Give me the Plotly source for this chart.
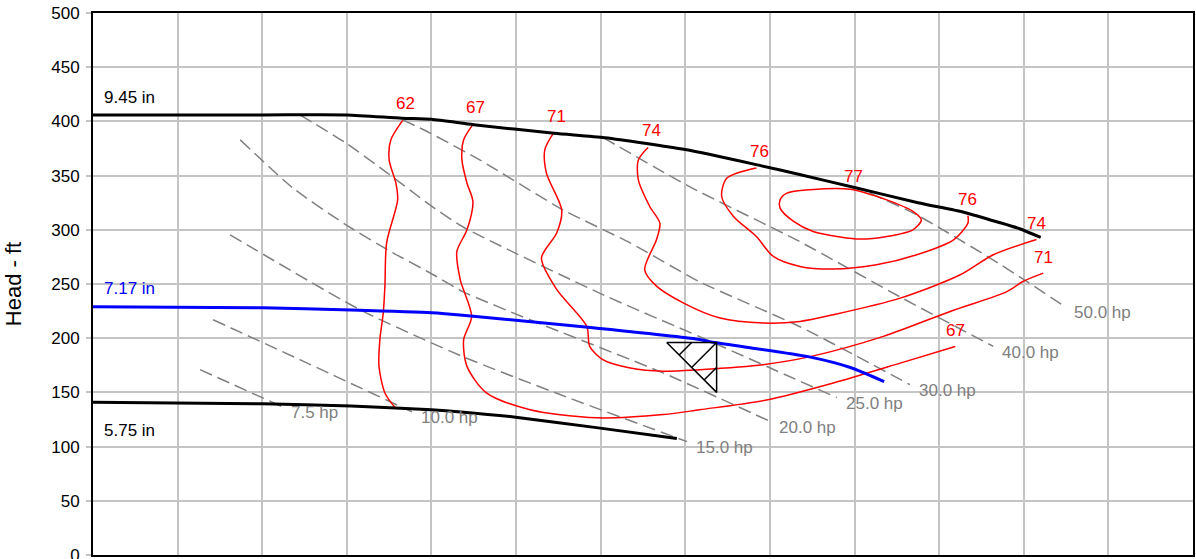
import plotly.graph_objects as go

# ---------------- data (flow in gpm, head in ft) ----------------
imp_945_q = [0, 200, 300, 365, 400, 450, 545, 605, 700, 790, 835, 900, 975, 1030, 1070, 1095, 1120]
imp_945_h = [406, 406, 406, 403, 402, 397, 389, 385, 374, 359, 351, 339, 325, 316, 307, 301, 293]

imp_717_q = [0, 200, 305, 400, 440, 585, 715, 735, 845, 895, 935]
imp_717_h = [229, 228, 226, 223.5, 221, 210, 199, 196, 183, 173, 160]

imp_575_q = [0, 200, 305, 400, 435, 495, 595, 690]
imp_575_h = [141, 139.5, 137.5, 134, 132, 127.5, 117.5, 107.5]

eff_62_q = [366, 352, 350, 358, 360, 347, 345, 343, 339, 338, 345, 357]
eff_62_h = [401, 383, 364.5, 343, 327.5, 288, 248, 223, 198.5, 174, 149.5, 136]

eff_67_q = [449, 438, 436, 442, 449, 442, 430, 434, 447.5, 438, 442, 465, 516.5, 595, 674, 717, 796, 875, 954, 1019]
eff_67_h = [397, 383, 364.5, 343, 326, 300, 280, 254, 220, 198.5, 174, 149.5, 134, 126.5, 129.5, 134, 143, 158.7, 177, 192.4]

eff_71_q = [544, 534, 536, 554, 548, 530, 548, 583.5, 587, 603, 635, 674, 717, 792, 847.5, 934, 1013, 1080, 1099, 1123]
eff_71_h = [389, 374, 352, 318, 297, 274, 245, 211, 192.5, 180, 172.5, 169.5, 171, 175.6, 183, 201.7, 224.7, 243, 252.3, 260]

eff_74_q = [656, 644.5, 644.5, 658, 670, 666, 652, 666, 698, 741, 792, 835.5, 875, 954, 1025, 1064, 1115]
eff_74_h = [376, 364.5, 346, 321.5, 306, 291, 263, 248, 232.4, 218.6, 214, 215.5, 221.7, 237, 258.5, 277, 291]

eff_76_q = [784, 749, 743, 757, 784, 804, 835.5, 875, 926, 973.5, 1017, 1034, 1034]
eff_76_h = [357, 347.6, 330.7, 312.3, 293.8, 275.4, 266.2, 263.8, 267.7, 277, 290.8, 306.2, 313]

eff_77_q = [812, 820, 847, 895, 938, 969, 979, 969, 938, 906.5, 883, 851, 828, 812, 812]
eff_77_h = [327.6, 333.8, 337, 337.5, 327.6, 317, 309, 300, 293.8, 291.4, 293.3, 298.4, 307.7, 320, 327.6]

pw_75_q = [126.5, 223]
pw_75_h = [171, 137]
pw_10_q = [142, 245, 377]
pw_10_h = [217, 180, 132]
pw_15_q = [162, 315.5, 437, 552, 702]
pw_15_h = [295.4, 226.3, 183, 148, 104.6]
pw_20_q = [174, 236, 299, 354.5, 398, 437, 516.5, 673.6, 800]
pw_20_h = [383, 338.7, 304.6, 278.8, 260.4, 243, 217, 168, 123.3]
pw_25_q = [244.6, 299, 346, 398, 437, 603, 717, 879]
pw_25_h = [406, 380, 353.5, 323, 302.8, 240, 201.4, 145.2]
pw_30_q = [366, 398, 457, 555.5, 634.6, 717, 835.5, 965.5]
pw_30_h = [401.4, 389.4, 364.5, 318.4, 288, 252, 210.6, 157.1]
pw_40_q = [603, 705.5, 835.5, 954, 1064]
pw_40_h = [385, 339.6, 289, 238, 192.4]
pw_50_q = [918, 969, 1004.5, 1063.6, 1104, 1148.7]
pw_50_h = [334, 315.7, 300, 272.3, 252.1, 229]

duty_q = 737
duty_h = 196
tri_w = 59   # gpm
tri_h = 46   # ft

x_range = [0, 1300]
y_range = [0, 500]

# ---------------- figure ----------------
FONT = "Arial, Liberation Sans, sans-serif"
GRAY = "#808080"
RED = "#ff0000"

fig = go.Figure()
ann = []

power = [
    (pw_75_q, pw_75_h, "7.5 hp"),
    (pw_10_q, pw_10_h, "10.0 hp"),
    (pw_15_q, pw_15_h, "15.0 hp"),
    (pw_20_q, pw_20_h, "20.0 hp"),
    (pw_25_q, pw_25_h, "25.0 hp"),
    (pw_30_q, pw_30_h, "30.0 hp"),
    (pw_40_q, pw_40_h, "40.0 hp"),
    (pw_50_q, pw_50_h, "50.0 hp"),
]
for q, h, lab in power:
    fig.add_trace(go.Scatter(x=q, y=h, mode="lines",
                             line=dict(color=GRAY, width=1.5, dash="13px,6px", shape="spline", smoothing=0.6),
                             hoverinfo="skip"))
    ann.append(dict(x=q[-1], y=h[-1], text=lab, showarrow=False, xanchor="left", yanchor="middle",
                    xshift=7, yshift=-6, font=dict(color=GRAY, size=17, family=FONT)))

eff = [
    (eff_62_q, eff_62_h, "62", True, False),
    (eff_67_q, eff_67_h, "67", True, True),
    (eff_71_q, eff_71_h, "71", True, True),
    (eff_74_q, eff_74_h, "74", True, True),
    (eff_76_q, eff_76_h, "76", True, True),
]
for q, h, lab, top, end in eff:
    fig.add_trace(go.Scatter(x=q, y=h, mode="lines",
                             line=dict(color=RED, width=1.5, shape="spline", smoothing=0.8),
                             hoverinfo="skip"))
    if top:
        ann.append(dict(x=q[0], y=h[0], text=lab, showarrow=False, xanchor="center", yanchor="middle",
                        xshift=3, yshift=17, font=dict(color=RED, size=17, family=FONT)))
    if end:
        ann.append(dict(x=q[-1], y=h[-1], text=lab, showarrow=False, xanchor="center", yanchor="middle",
                        xshift=0, yshift=16, font=dict(color=RED, size=17, family=FONT)))

fig.add_trace(go.Scatter(x=eff_77_q, y=eff_77_h, mode="lines",
                         line=dict(color=RED, width=1.5, shape="spline", smoothing=0.8),
                         hoverinfo="skip"))
i_top = eff_77_h.index(max(eff_77_h))
ann.append(dict(x=eff_77_q[i_top], y=eff_77_h[i_top], text="77", showarrow=False, xanchor="center",
                yanchor="middle", xshift=3, yshift=13, font=dict(color=RED, size=17, family=FONT)))

imps = [
    (imp_945_q, imp_945_h, "9.45 in", "#000000", 17),
    (imp_717_q, imp_717_h, "7.17 in", "#0000ff", 18),
    (imp_575_q, imp_575_h, "5.75 in", "#000000", -28),
]
for q, h, lab, col, ys in imps:
    fig.add_trace(go.Scatter(x=q, y=h, mode="lines",
                             line=dict(color=col, width=3, shape="spline", smoothing=0.6),
                             hoverinfo="skip"))
    ann.append(dict(x=q[0], y=h[0], text=lab, showarrow=False, xanchor="left", yanchor="middle",
                    xshift=9, yshift=ys, font=dict(color=col, size=17, family=FONT)))

# duty point marker: right-angled triangle with hatching
L = duty_q - tri_w
B = duty_h - tri_h
tx = [L, duty_q, duty_q, L]
ty = [duty_h, duty_h, B, duty_h]
hx, hy = [], []
for f in (0.25, 0.5, 0.75):
    sx = L + f * tri_w
    sy = duty_h - f * tri_h
    if f <= 0.5:
        ex, ey = L + 2 * f * tri_w, duty_h
    else:
        ex, ey = duty_q, duty_h - (2 * f - 1) * tri_h
    hx += [sx, ex, None]
    hy += [sy, ey, None]
fig.add_trace(go.Scatter(x=tx + [None] + hx, y=ty + [None] + hy, mode="lines",
                         line=dict(color="#000000", width=1.5), hoverinfo="skip"))

fig.update_layout(
    width=1196, height=559,
    margin=dict(l=93, r=3, t=13, b=4),
    paper_bgcolor="white", plot_bgcolor="white",
    showlegend=False,
    annotations=ann,
    font=dict(family=FONT, size=17, color="#000000"),
)
fig.update_xaxes(range=x_range, dtick=100, showgrid=True, gridcolor="#c4c4c4", gridwidth=1.5,
                 showline=True, linecolor="#000000", linewidth=2, mirror=True,
                 showticklabels=False, ticks="", zeroline=False, fixedrange=True)
fig.update_yaxes(range=y_range, dtick=50, showgrid=True, gridcolor="#c4c4c4", gridwidth=1.5,
                 showline=True, linecolor="#000000", linewidth=2, mirror=True,
                 ticks="outside", ticklen=5, tickcolor="#c4c4c4", tickwidth=1.5,
                 ticklabelstandoff=3, ticklabeloverflow="allow",
                 tickfont=dict(size=17, family=FONT, color="#000000"),
                 title=dict(text="Head - ft", font=dict(size=22, family=FONT, color="#000000"), standoff=24),
                 zeroline=False, fixedrange=True, automargin=False)

fig.write_html("out.html",
               config={"displayModeBar": False},
               post_script="document.body.style.margin='0';document.body.style.overflow='hidden';")
